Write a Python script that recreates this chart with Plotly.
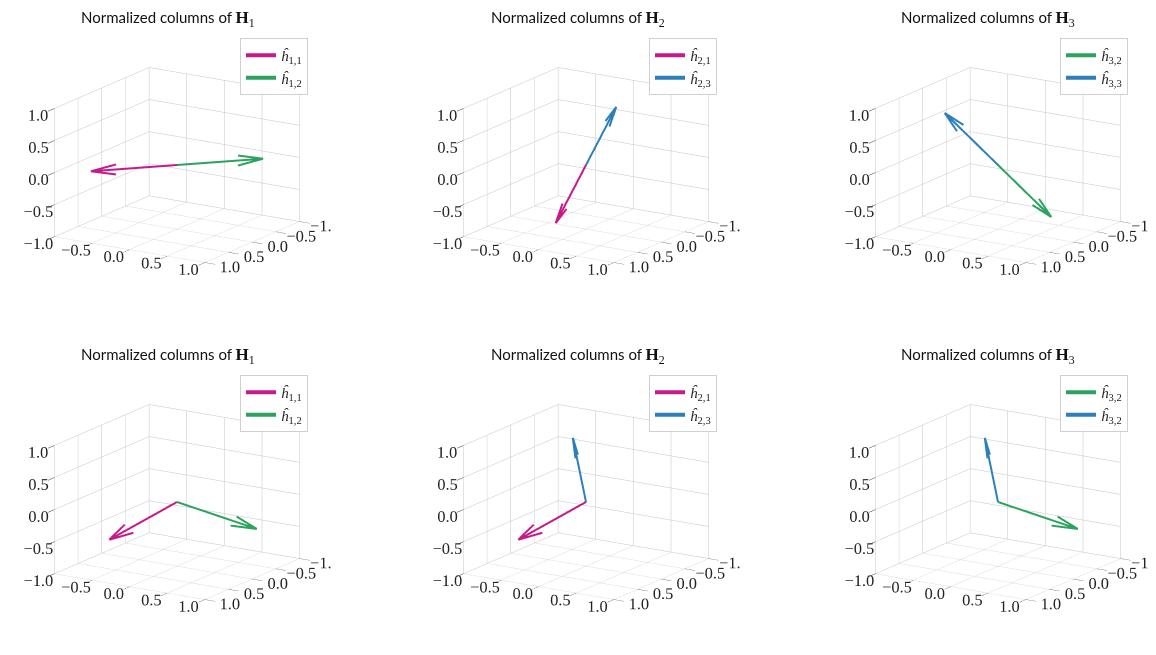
import numpy as np
import plotly.graph_objects as go

# ── Colours / fonts ───────────────────────────────────────────────────────────
C_MAGENTA = "#c51b8a"
C_GREEN = "#2ca25f"
C_BLUE = "#2c7fb8"
C_GRID = "#c4c4c4"
SERIF = "Liberation Serif, DejaVu Serif, serif"
SANS = "Lato, Open Sans, sans-serif"

# ── Data: normalized column vectors (x, y, z) ─────────────────────────────────
TICKS = [-1.0, -0.5, 0.0, 0.5, 1.0]

top_h11 = [-0.68, 0.735, 0.0]
top_h12 = [0.68, -0.735, 0.0]
top_h21 = [0.075, 0.758, -0.648]
top_h23 = [-0.075, -0.758, 0.648]
top_h32 = [0.779, 0.114, -0.617]
top_h33 = [-0.779, -0.114, 0.617]

bot_h1 = [-0.713, 0.295, -0.636]   # h_{1,1} = h_{2,1}
bot_h2 = [0.730, -0.524, -0.440]   # h_{1,2} = h_{3,2}
bot_h3 = [-0.462, -0.456, 0.761]   # h_{2,3} = h_{3,3}

PANELS = [
    # (H index, [(vector, colour, label), ...])
    (1, [(top_h11, C_MAGENTA, "1,1"), (top_h12, C_GREEN, "1,2")]),
    (2, [(top_h21, C_MAGENTA, "2,1"), (top_h23, C_BLUE, "2,3")]),
    (3, [(top_h32, C_GREEN, "3,2"), (top_h33, C_BLUE, "3,3")]),
    (1, [(bot_h1, C_MAGENTA, "1,1"), (bot_h2, C_GREEN, "1,2")]),
    (2, [(bot_h1, C_MAGENTA, "2,1"), (bot_h3, C_BLUE, "2,3")]),
    (3, [(bot_h2, C_GREEN, "3,2"), (bot_h3, C_BLUE, "3,2")]),
]

# ── Arrow geometry (like matplotlib's 3D quiver: ratio 0.3, 15 deg head) ─────
def rotate(v, k, ang):
    return (v * np.cos(ang) + np.cross(k, v) * np.sin(ang)
            + k * np.dot(k, v) * (1 - np.cos(ang)))

def arrow_xyz(vec, ratio=0.3, angle=15):
    v = np.asarray(vec, float)
    n = np.linalg.norm(v[:2])
    k = np.array([v[1] / n, -v[0] / n, 0.0]) if n > 0 else np.array([0.0, 1.0, 0.0])
    a = np.radians(angle)
    b1 = v - ratio * rotate(v, k, a)
    b2 = v - ratio * rotate(v, k, -a)
    pts = [np.zeros(3), v, None, b1, v, b2]
    xs = [p[0] if p is not None else None for p in pts]
    ys = [p[1] if p is not None else None for p in pts]
    zs = [p[2] if p is not None else None for p in pts]
    return xs, ys, zs

# ── Layout geometry ──────────────────────────────────────────────────────────
W, H = 1156, 655
COL_X = [[0.012, 0.280], [0.366, 0.634], [0.722, 0.990]]
ROW_Y = [[0.546, 0.974], [0.032, 0.460]]
TITLE_X = [160, 570, 980]
TITLE_Y = [11, 348]
LEG_X = [300, 709, 1120]
LEG_Y = [30, 367]

# camera direction in box space (y axis is reversed); box enlarged for zoom
el, az, r = np.radians(15.8), np.radians(-57.8), 2.0
EYE = dict(x=r * np.cos(el) * np.cos(az), y=r * np.cos(el) * np.sin(az), z=r * np.sin(el))
BOX = 1.27

def axis(rng):
    return dict(
        range=rng, autorange=False, tickvals=TICKS, tickformat=".1f",
        showgrid=True, gridcolor=C_GRID, gridwidth=1,
        showline=False, zeroline=False, showbackground=False,
        ticks="outside", ticklen=12, tickcolor="#333333", tickangle=0,
        title=dict(text=""), showspikes=False,
        tickfont=dict(family=SERIF, size=14, color="#222222"),
    )

fig = go.Figure()
annotations = []
layout = {}

for i, (hk, arrows) in enumerate(PANELS):
    row, col = divmod(i, 3)
    sid = "scene" if i == 0 else f"scene{i + 1}"
    lid = "legend" if i == 0 else f"legend{i + 1}"

    for vec, colr, lab in arrows:
        xs, ys, zs = arrow_xyz(vec)
        fig.add_trace(go.Scatter3d(
            x=xs, y=ys, z=zs, mode="lines",
            line=dict(color=colr, width=4),
            name=f"<i>ĥ</i><sub>{lab}</sub>",
            scene=sid, legend=lid, hoverinfo="skip",
        ))

    layout[sid] = dict(
        domain=dict(x=COL_X[col], y=ROW_Y[row]),
        xaxis=axis([-1, 1]), yaxis=axis([1, -1]), zaxis=axis([-1, 1]),
        aspectmode="manual", aspectratio=dict(x=BOX, y=BOX, z=0.75 * BOX),
        camera=dict(eye=EYE, up=dict(x=0, y=0, z=1), center=dict(x=0, y=0, z=0),
                    projection=dict(type="orthographic")),
        bgcolor="white",
    )
    layout[lid] = dict(
        x=LEG_X[col] / W, y=1 - LEG_Y[row] / H, xanchor="right", yanchor="top",
        bgcolor="rgba(255,255,255,0.85)", bordercolor="#d0d0d0", borderwidth=1,
        font=dict(family=SERIF, size=15, color="#222222"),
        itemwidth=30,
    )
    annotations.append(dict(
        x=TITLE_X[col] / W, y=1 - TITLE_Y[row] / H, xref="paper", yref="paper",
        xanchor="center", yanchor="middle", showarrow=False,
        text=f"Normalized columns of <span style='font-family:{SERIF};font-size:17px'><b>H</b><sub>{hk}</sub></span>",
        font=dict(family=SANS, size=15, color="#111111"),
    ))

fig.update_layout(
    width=W, height=H,
    margin=dict(l=0, r=0, t=0, b=0),
    paper_bgcolor="white", plot_bgcolor="white",
    annotations=annotations,
    **layout,
)

fig.write_html("out.html")
